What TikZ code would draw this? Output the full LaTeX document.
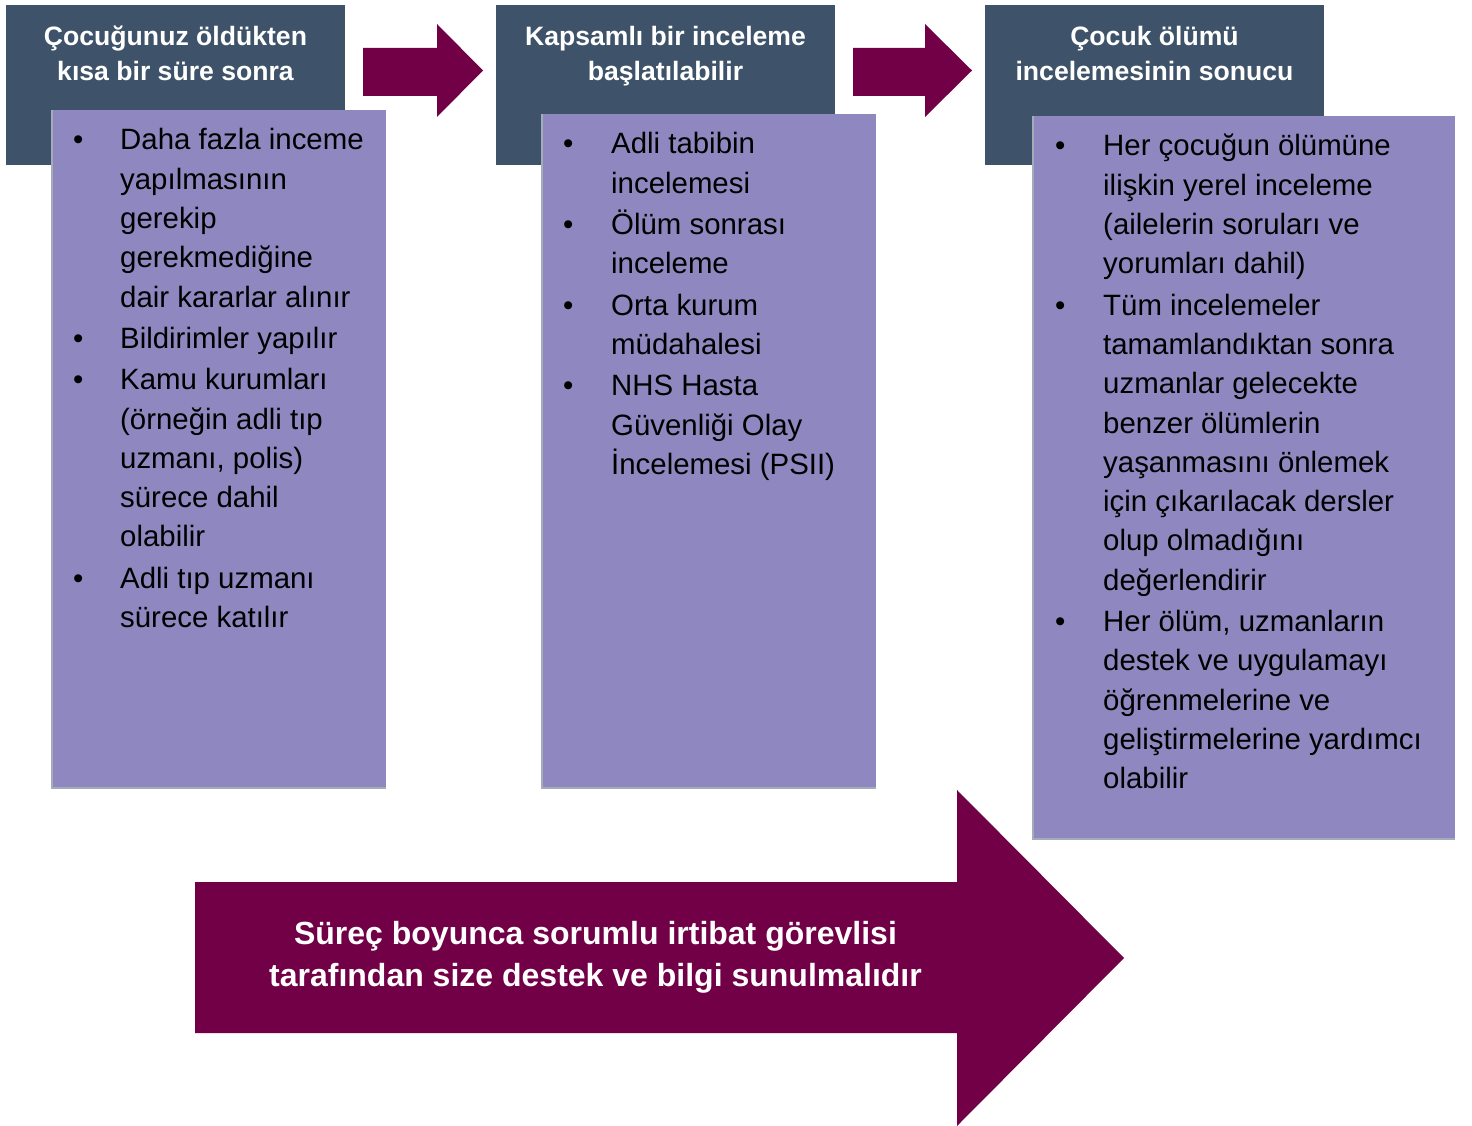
\documentclass[tikz,border=0pt]{standalone}
\usepackage{fontspec}
\setmainfont{Liberation Sans}
\usepackage{array}

\definecolor{baslik}{HTML}{3E5369}
\definecolor{mor}{HTML}{8F87BF}
\definecolor{kenar}{HTML}{A3ACB8}
\definecolor{bordo}{HTML}{720046}

\tikzset{
  hdtext/.style={text=white, inner sep=0pt, anchor=base, font=\bfseries\fontsize{26.6}{35}\selectfont},
  bodytext/.style={text=black, inner sep=0pt, anchor=base west, font=\fontsize{29.4}{39.3}\selectfont},
  oktext/.style={text=white, inner sep=0pt, anchor=base, font=\bfseries\fontsize{32}{42}\selectfont}
}

\begin{document}
\begin{tikzpicture}[x=1pt,y=-1pt]
            \useasboundingbox (0,0) rectangle (1472,1126);

            % basliklar
            \fill[baslik] (6,5) rectangle (345,165);
            \fill[baslik] (496,5) rectangle (835,165);
            \fill[baslik] (985,5) rectangle (1324,165);
            \node[hdtext] (hdA) at (175.5,46) {\begin{tabular}[t]{@{}c@{}}Çocuğunuz öldükten\\kısa bir süre sonra\end{tabular}};
            \node[hdtext] (hdB) at (665.5,46) {\begin{tabular}[t]{@{}c@{}}Kapsamlı bir inceleme\\başlatılabilir\end{tabular}};
            \node[hdtext] (hdC) at (1154.5,46) {\begin{tabular}[t]{@{}c@{}}Çocuk ölümü\\incelemesinin sonucu\end{tabular}};

            % oklar
            \fill[bordo] (363,48) -- (437,48) -- (437,24) -- (483,70.5) -- (437,117) -- (437,96) -- (363,96) -- cycle;
            \fill[bordo] (853,48) -- (925,48) -- (925,24) -- (972,70.5) -- (925,117) -- (925,96) -- (853,96) -- cycle;

            % mor kutular
            \fill[mor] (52,110) rectangle (386,788);
            \fill[mor] (542,114) rectangle (876,788);
            \fill[mor] (1033,116) rectangle (1455,839);
            \draw[kenar, line width=1.5pt] (52,110) -- (52,788) -- (386,788);
            \draw[kenar, line width=1.5pt] (542,114) -- (542,788) -- (876,788);
            \draw[kenar, line width=1.5pt] (1033,116) -- (1033,839) -- (1455,839);

            \node[bodytext] (listA) at (73,150) {\begin{tabular}[t]{@{}p{47pt}@{}l@{}}
              • & Daha fazla inceme\\
                & yapılmasının\\
                & gerekip\\
                & gerekmediğine\\
                & dair kararlar alınır\\[2pt]
              • & Bildirimler yapılır\\[2pt]
              • & Kamu kurumları\\
                & (örneğin adli tıp\\
                & uzmanı, polis)\\
                & sürece dahil\\
                & olabilir\\[2pt]
              • & Adli tıp uzmanı\\
                & sürece katılır
            \end{tabular}};

            \node[bodytext] (listB) at (563,154) {\begin{tabular}[t]{@{}p{48pt}@{}l@{}}
              • & Adli tabibin\\
                & incelemesi\\[2pt]
              • & Ölüm sonrası\\
                & inceleme\\[2pt]
              • & Orta kurum\\
                & müdahalesi\\[2pt]
              • & NHS Hasta\\
                & Güvenliği Olay\\
                & İncelemesi (PSII)
            \end{tabular}};

            \node[bodytext] (listC) at (1055,156) {\begin{tabular}[t]{@{}p{48pt}@{}l@{}}
              • & Her çocuğun ölümüne\\
                & ilişkin yerel inceleme\\
                & (ailelerin soruları ve\\
                & yorumları dahil)\\[2pt]
              • & Tüm incelemeler\\
                & tamamlandıktan sonra\\
                & uzmanlar gelecekte\\
                & benzer ölümlerin\\
                & yaşanmasını önlemek\\
                & için çıkarılacak dersler\\
                & olup olmadığını\\
                & değerlendirir\\[2pt]
              • & Her ölüm, uzmanların\\
                & destek ve uygulamayı\\
                & öğrenmelerine ve\\
                & geliştirmelerine yardımcı\\
                & olabilir
            \end{tabular}};

            % alt ok
            \fill[bordo] (195,882) -- (957,882) -- (957,790) -- (1124,958) -- (957,1126) -- (957,1033) -- (195,1033) -- cycle;
            \node[oktext] (destek) at (595.5,944) {\begin{tabular}[t]{@{}c@{}}Süreç boyunca sorumlu irtibat görevlisi\\tarafından size destek ve bilgi sunulmalıdır\end{tabular}};
        \end{tikzpicture}
\end{document}
